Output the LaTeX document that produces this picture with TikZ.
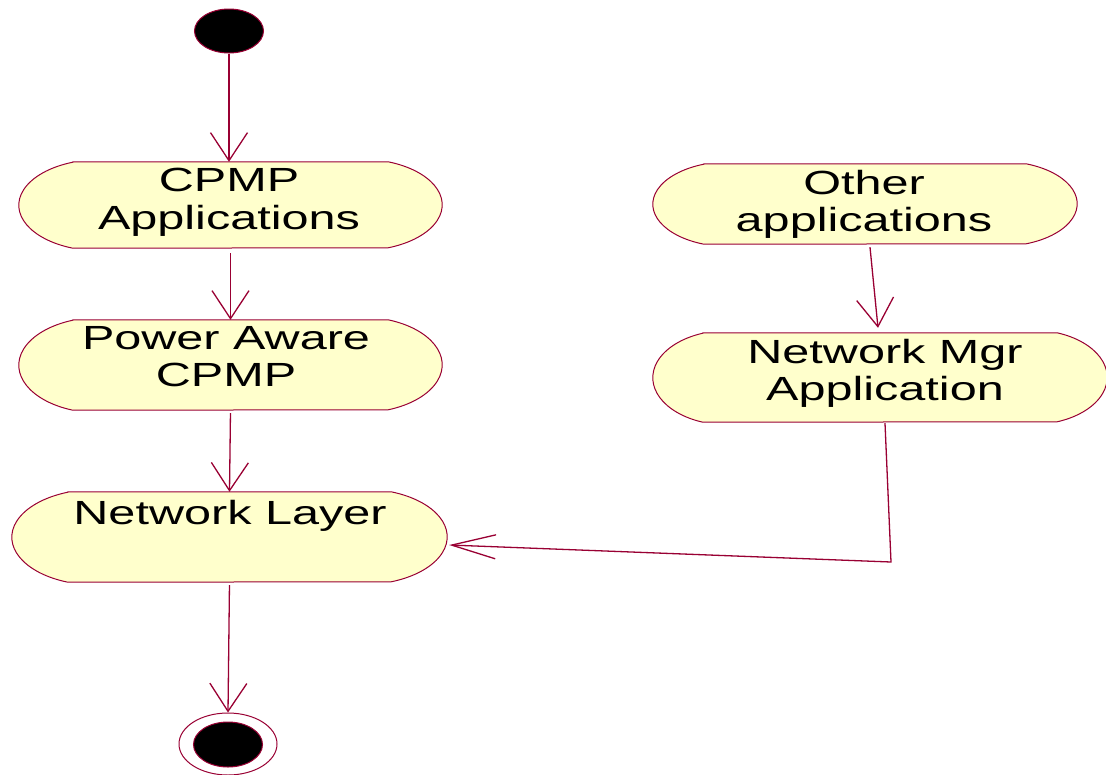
\documentclass[tikz,border=0pt]{standalone}
\usepackage{fontspec}
\newfontfamily\actfont[FakeStretch=1.45]{Liberation Sans}
\usetikzlibrary{shapes.geometric,arrows.meta,calc}
\definecolor{umlline}{RGB}{153,0,51}
\definecolor{umlfill}{RGB}{255,255,204}
\tikzset{
  actbox/.style={rectangle,draw=none,inner sep=0pt},
  actshape/.style={draw=umlline,fill=umlfill,line width=1pt},
  acttext/.style={inner sep=0pt,anchor=north,align=center,
    font=\actfont\fontsize{33.5}{37.5}\selectfont},
  startdot/.style={ellipse,draw=umlline,fill=black,line width=1pt,inner sep=0pt,
    minimum width=69pt,minimum height=44pt},
  endring/.style={ellipse,draw=umlline,fill=white,line width=1pt,inner sep=0pt,
    minimum width=98pt,minimum height=62pt},
  flow/.style={draw=umlline,line width=1.3pt,
    -{Straight Barb[length=28pt,width=37pt,line width=1.3pt]}},
  sideflow/.style={draw=umlline,line width=1.3pt,line join=miter,
    -{Straight Barb[length=44pt,width=24pt,line width=1.3pt]}}
}
% activity outline: flat top and bottom, ends made of a 140-degree
% elliptical arc, so the ends meet the flat sides at a slight corner
% #1 node name, #2 depth of the rounded ends, #3 half height
\newcommand\actoutline[3]{%
  \path[actshape] ([xshift=#2]#1.north west) -- ([xshift=-#2]#1.north east)
    arc[start angle=70,end angle=-70,x radius={#2/0.658},y radius={#3/0.9397}]
    -- ([xshift=#2]#1.south west)
    arc[start angle=250,end angle=110,x radius={#2/0.658},y radius={#3/0.9397}]
    -- cycle;}
\begin{document}
\begin{tikzpicture}[x=1pt,y=1pt]
\useasboundingbox (0,0) rectangle (1106,-774);

% initial state
\node[startdot] (start) at (229,-31) {};

% activities
\node[actbox,minimum width=423pt,minimum height=86pt] (cpmp) at (230.5,-205) {};
\actoutline{cpmp}{54pt}{43pt}
\node[acttext] (cpmpT) at (229,-168) {CPMP\\Applications};

\node[actbox,minimum width=423pt,minimum height=90pt] (power) at (230.5,-365) {};
\actoutline{power}{54pt}{45pt}
\node[acttext] (powerT) at (226,-326) {Power Aware\\CPMP};

\node[actbox,minimum width=435pt,minimum height=90pt] (nl) at (229.5,-537) {};
\actoutline{nl}{56pt}{45pt}
\node[acttext] (nlT) at (230,-500) {Network Layer};

\node[actbox,minimum width=424pt,minimum height=80pt] (other) at (865,-204) {};
\actoutline{other}{51pt}{40pt}
\node[acttext] (otherT) at (864,-170) {Other\\applications};

\node[actbox,minimum width=454pt,minimum height=89pt] (mgr) at (880,-377.5) {};
\actoutline{mgr}{50pt}{44.5pt}
\node[acttext] (mgrT) at (885,-339) {Network Mgr\\Application};

% final state
\node[endring] (stop) at (228,-744) {};
\node[startdot,minimum height=45pt] (stopdot) at (228,-744.5) {};

% transitions
\draw[flow] (start.south) -- (start.south |- cpmp.north);
\draw[flow,shorten <=5pt] (cpmp.south) -- (power.north);
\draw[flow,shorten <=3pt] (power.south) -- (nl.north);
\draw[flow,shorten <=3pt] (nl.south) -- (stop.north);
\draw[flow] ($(other.south)+(5,-3)$) -- ($(mgr.north)+(-2,5)$);
\coordinate (bend) at (891,-562);
\draw[sideflow] ($(mgr.south)+(5,-1)$) -- (bend) -- ($(nl.east)+(2,-8)$);
\end{tikzpicture}
\end{document}
